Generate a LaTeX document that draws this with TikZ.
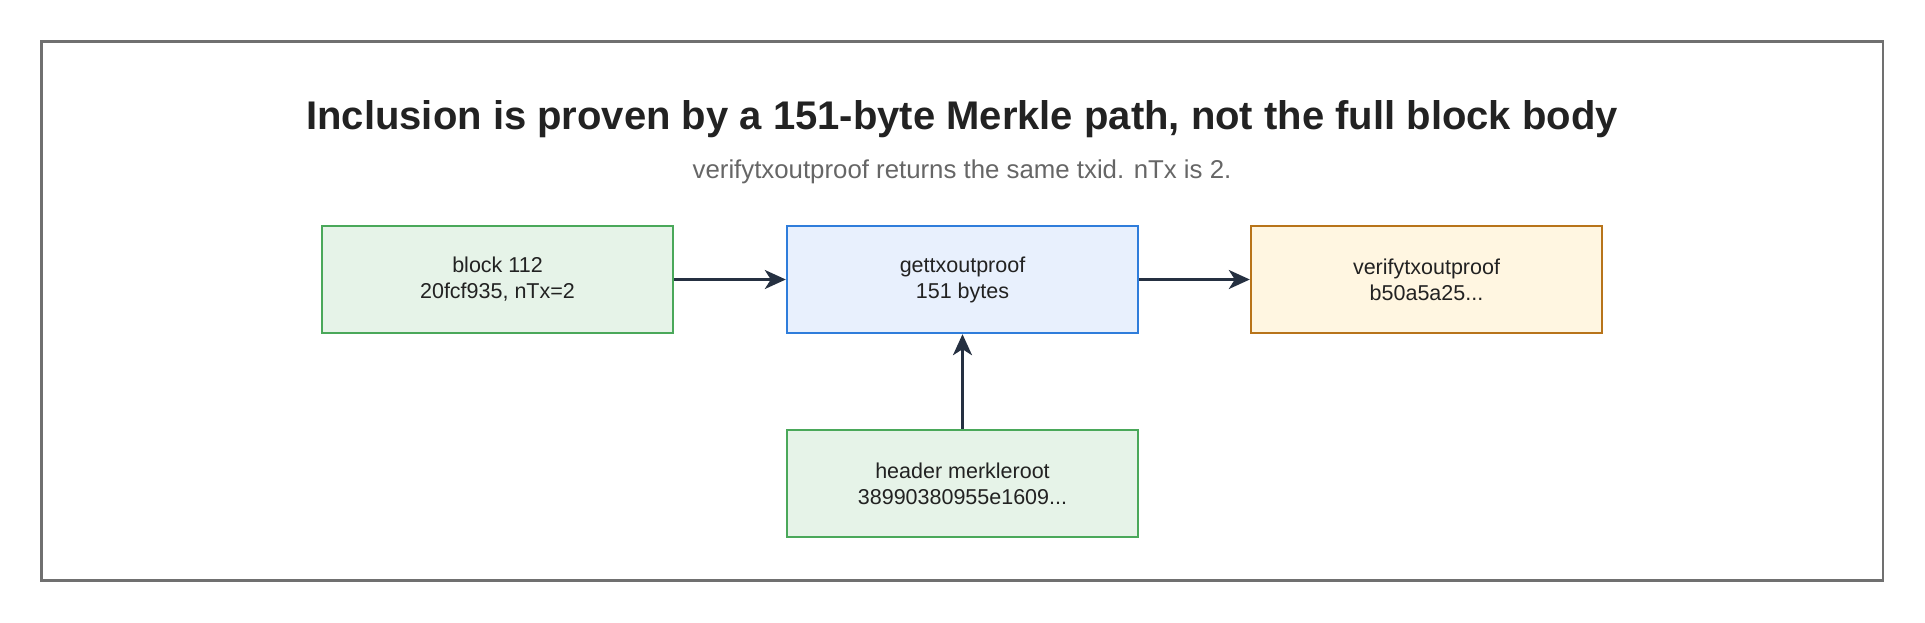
\documentclass[tikz,border=0pt]{standalone}
\usepackage{fontspec}
\setmainfont{Liberation Sans}
\usetikzlibrary{arrows.meta}
\definecolor{gfill}{HTML}{E6F3E8}
\definecolor{gdraw}{HTML}{4AA85A}
\definecolor{bfill}{HTML}{E8F0FD}
\definecolor{bdraw}{HTML}{2F7DDB}
\definecolor{ofill}{HTML}{FFF6E1}
\definecolor{odraw}{HTML}{B8741A}
\definecolor{frame}{HTML}{707070}
\definecolor{arrowc}{HTML}{253041}
\definecolor{txt}{HTML}{222222}
\definecolor{subt}{HTML}{666666}
\tikzset{
  x=1pt, y=-1pt,
  box/.style={draw, line width=2.4pt, minimum width=351pt, minimum height=107pt,
    inner sep=0pt, align=center, text=txt,
    font=\fontsize{21.5}{26}\selectfont},
  gbox/.style={box, fill=gfill, draw=gdraw},
  bbox/.style={box, fill=bfill, draw=bdraw},
  obox/.style={box, fill=ofill, draw=odraw},
  conn/.style={draw=arrowc, line width=2.8pt,
    -{Stealth[length=21pt, width=19pt, inset=6pt]}},
}
\begin{document}
\begin{tikzpicture}
\useasboundingbox (0,0) rectangle (1925,623);
\draw[frame, line width=2.5pt] (41.5,41.5) rectangle (1883,580.5);
\node[font=\bfseries\fontsize{40}{46}\selectfont, text=txt] (title) at (962,119) {Inclusion is proven by a 151-byte Merkle path, not the full block body};
\node[font=\fontsize{25.8}{30}\selectfont, text=subt] (sub) at (962,172) {verifytxoutproof returns the same txid. nTx is 2.};
\node[gbox] (block) at (497.5,279.5) {block 112\\20fcf935, nTx=2};
\node[bbox] (get) at (962.5,279.5) {gettxoutproof\\151 bytes};
\node[obox] (ver) at (1426.5,279.5) {verifytxoutproof\\b50a5a25...};
\node[gbox] (hdr) at (962.5,483.5) {header merkleroot\\38990380955e1609...};
\draw[conn] (block) -- (get);
\draw[conn] (get) -- (ver);
\draw[conn] (hdr) -- (get);
\end{tikzpicture}
\end{document}
